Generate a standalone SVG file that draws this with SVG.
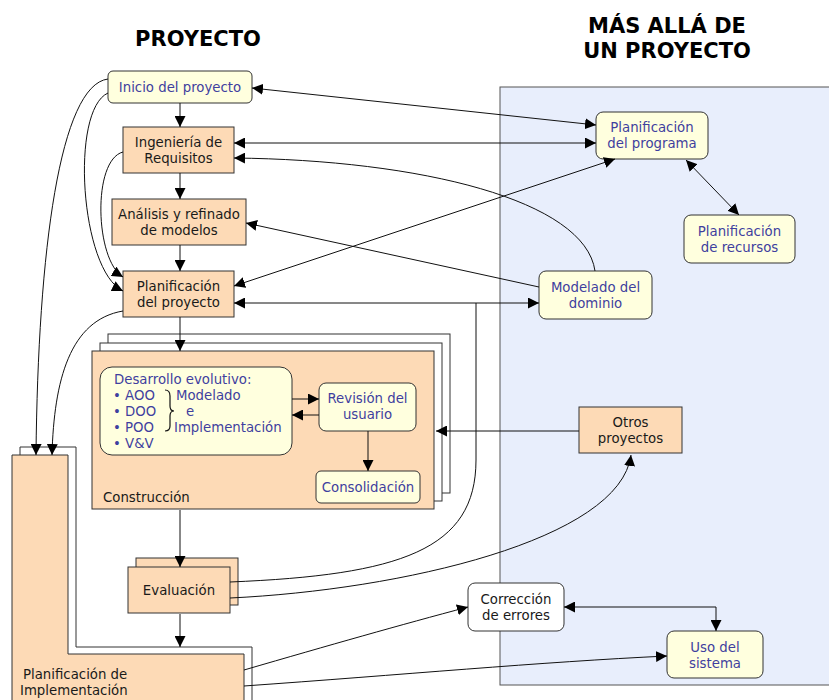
<svg xmlns="http://www.w3.org/2000/svg" width="829" height="700" viewBox="0 0 829 700">
  <style>
    text { font-family: "DejaVu Sans", Verdana, sans-serif; font-size: 13.3px; }
    .title { font-weight: bold; font-size: 21px; fill: #000; text-anchor: middle; }
    .blue { fill: #3f3f9f; }
    .dark { fill: #1a1a1a; }
    .c { text-anchor: middle; }
    .peach { fill: #fddab6; stroke: #333; stroke-width: 1; }
    .yellow { fill: #ffffde; stroke: #333; stroke-width: 1; }
    .white { fill: #fff; stroke: #333; stroke-width: 1; }
    .wire { fill: none; stroke: #111; stroke-width: 1; }
  </style>
  <defs>
    <marker id="ah" viewBox="0 0 10 10" refX="10" refY="5" markerWidth="11" markerHeight="11" markerUnits="userSpaceOnUse" orient="auto-start-reverse">
      <path d="M0,0 L10,5 L0,10 Z" fill="#000"/>
    </marker>
  </defs>

  <rect width="829" height="700" fill="#fff"/>

  <!-- titles -->
  <text class="title" x="198" y="46">PROYECTO</text>
  <text class="title" x="667" y="33">MÁS ALLÁ DE</text>
  <text class="title" x="667" y="58">UN PROYECTO</text>

  <!-- outer region -->
  <rect x="500" y="87" width="340" height="598" fill="#e8eefc" stroke="#555" stroke-width="1"/>

  <!-- project nodes -->
  <g id="inicio">
    <rect class="yellow" x="108" y="71" width="144" height="32" rx="5"/>
    <text class="blue c" x="180" y="92">Inicio del proyecto</text>
  </g>
  <g id="ingenieria">
    <rect class="peach" x="123" y="127" width="111" height="46"/>
    <text class="dark c" x="178.5" y="147">Ingeniería de</text>
    <text class="dark c" x="178.5" y="163">Requisitos</text>
  </g>
  <g id="analisis">
    <rect class="peach" x="112" y="199" width="134" height="46"/>
    <text class="dark c" x="179" y="219">Análisis y refinado</text>
    <text class="dark c" x="179" y="235">de modelos</text>
  </g>
  <g id="plan-proyecto">
    <rect class="peach" x="123" y="271" width="111" height="46"/>
    <text class="dark c" x="178.5" y="291">Planificación</text>
    <text class="dark c" x="178.5" y="307">del proyecto</text>
  </g>

  <g id="construccion">
    <rect class="white" x="108" y="334" width="342" height="159"/>
    <rect class="white" x="100" y="343" width="342" height="158"/>
    <rect class="peach" x="92" y="351" width="342" height="158"/>
    <text class="dark" x="103" y="502">Construcción</text>
  </g>
  <g id="desarrollo">
    <rect class="yellow" x="100" y="367" width="192" height="88" rx="12"/>
    <text class="blue" x="114" y="384">Desarrollo evolutivo:</text>
    <text class="blue" x="113" y="400">• AOO</text>
    <text class="blue" x="113" y="416">• DOO</text>
    <text class="blue" x="113" y="432">• POO</text>
    <text class="blue" x="113" y="448">• V&amp;V</text>
    <path d="M165,390 Q170,390 170,396 L170,406 Q170,411 174,411 Q170,411 170,416 L170,426 Q170,431 165,431" fill="none" stroke="#111" stroke-width="1.2"/>
    <text class="blue" x="176" y="400">Modelado</text>
    <text class="blue" x="186" y="416">e</text>
    <text class="blue" x="174" y="432">Implementación</text>
  </g>
  <g id="revision">
    <rect class="yellow" x="319" y="383" width="97" height="48" rx="7"/>
    <text class="blue c" x="367.5" y="403">Revisión del</text>
    <text class="blue c" x="367.5" y="419">usuario</text>
  </g>
  <g id="consolidacion">
    <rect class="yellow" x="316" y="471" width="104" height="32" rx="5"/>
    <text class="blue c" x="368" y="492">Consolidación</text>
  </g>

  <g id="evaluacion">
    <rect class="peach" x="136" y="558" width="102" height="47"/>
    <rect class="peach" x="128" y="567" width="102" height="46"/>
    <text class="dark c" x="179" y="595">Evaluación</text>
  </g>

  <g id="plan-implementacion">
    <path class="white" d="M20,710 L20,447 L76,447 L76,647 L252,647 L252,710 Z"/>
    <path class="peach" d="M12,710 L12,455 L68,455 L68,654 L244,654 L244,710 Z"/>
    <text class="dark" x="23" y="679">Planificación de</text>
    <text class="dark" x="20" y="695">Implementación</text>
  </g>

  <!-- nodes beyond a single project -->
  <g id="plan-programa">
    <rect class="yellow" x="596" y="112" width="112" height="47" rx="7"/>
    <text class="blue c" x="652" y="132">Planificación</text>
    <text class="blue c" x="652" y="148">del programa</text>
  </g>
  <g id="plan-recursos">
    <rect class="yellow" x="684" y="215" width="111" height="48" rx="7"/>
    <text class="blue c" x="739.5" y="236">Planificación</text>
    <text class="blue c" x="739.5" y="252">de recursos</text>
  </g>
  <g id="modelado-dominio">
    <rect class="yellow" x="539" y="271" width="113" height="48" rx="7"/>
    <text class="blue c" x="595.5" y="292">Modelado del</text>
    <text class="blue c" x="595.5" y="308">dominio</text>
  </g>
  <g id="otros-proyectos">
    <rect class="peach" x="579" y="407" width="103" height="46"/>
    <text class="dark c" x="630.5" y="427">Otros</text>
    <text class="dark c" x="630.5" y="443">proyectos</text>
  </g>
  <g id="correccion">
    <rect class="white" x="468" y="583" width="96" height="48" rx="7"/>
    <text class="dark c" x="516" y="604">Corrección</text>
    <text class="dark c" x="516" y="620">de errores</text>
  </g>
  <g id="uso-sistema">
    <rect class="yellow" x="667" y="631" width="96" height="47" rx="7"/>
    <text class="blue c" x="715" y="652">Uso del</text>
    <text class="blue c" x="715" y="668">sistema</text>
  </g>

  <!-- connectors, drawn over the node outlines -->
  <g id="connectors">
    <!-- main vertical flow -->
    <line class="wire" x1="180" y1="103" x2="180" y2="127" marker-end="url(#ah)"/>
    <line class="wire" x1="180" y1="173" x2="180" y2="199" marker-end="url(#ah)"/>
    <line class="wire" x1="180" y1="245" x2="180" y2="271" marker-end="url(#ah)"/>
    <line class="wire" x1="180" y1="317" x2="180" y2="351" marker-end="url(#ah)"/>
    <line class="wire" x1="180" y1="510" x2="180" y2="567" marker-end="url(#ah)"/>
    <line class="wire" x1="180" y1="614" x2="180" y2="647" marker-end="url(#ah)"/>

    <!-- left loops -->
    <path class="wire" d="M108,79 C60,85 38,250 36,455" marker-end="url(#ah)"/>
    <path class="wire" d="M108,93 C70,110 80,270 123,291" marker-end="url(#ah)"/>
    <path class="wire" d="M123,152 C92,160 95,260 123,277" marker-end="url(#ah)"/>
    <path class="wire" d="M123,311 C70,320 54,380 52,455" marker-end="url(#ah)"/>

    <!-- links to the right-hand region -->
    <line class="wire" x1="252" y1="88" x2="596" y2="125" marker-start="url(#ah)" marker-end="url(#ah)"/>
    <line class="wire" x1="234" y1="143" x2="596" y2="143" marker-start="url(#ah)" marker-end="url(#ah)"/>
    <path class="wire" d="M595,271 C585,200 420,160 234,158" marker-end="url(#ah)"/>
    <line class="wire" x1="539" y1="287" x2="246" y2="223" marker-end="url(#ah)"/>
    <line class="wire" x1="234" y1="286" x2="615" y2="159" marker-start="url(#ah)" marker-end="url(#ah)"/>
    <line class="wire" x1="234" y1="303" x2="539" y2="303" marker-start="url(#ah)" marker-end="url(#ah)"/>
    <line class="wire" x1="686" y1="160" x2="739" y2="215" marker-start="url(#ah)" marker-end="url(#ah)"/>
    <line class="wire" x1="579" y1="431" x2="436" y2="431" marker-end="url(#ah)"/>

    <!-- from Evaluación -->
    <path class="wire" d="M230,582 C400,575 476,550 476,460 L476,303"/>
    <path class="wire" d="M230,598 C400,590 620,540 631,455" marker-end="url(#ah)"/>

    <!-- from Planificación de Implementación -->
    <path class="wire" d="M244,670 C330,645 400,625 468,607" marker-end="url(#ah)"/>
    <path class="wire" d="M244,686 C400,675 540,662 667,656" marker-end="url(#ah)"/>

    <!-- Corrección de errores <-> Uso del sistema -->
    <path class="wire" d="M564,607 L716,607 L716,631" marker-start="url(#ah)" marker-end="url(#ah)"/>

    <!-- inside Construcción -->
    <line class="wire" x1="292" y1="399" x2="319" y2="399" marker-end="url(#ah)"/>
    <line class="wire" x1="319" y1="415" x2="292" y2="415" marker-end="url(#ah)"/>
    <line class="wire" x1="368" y1="431" x2="368" y2="471" marker-end="url(#ah)"/>
  </g>
</svg>
